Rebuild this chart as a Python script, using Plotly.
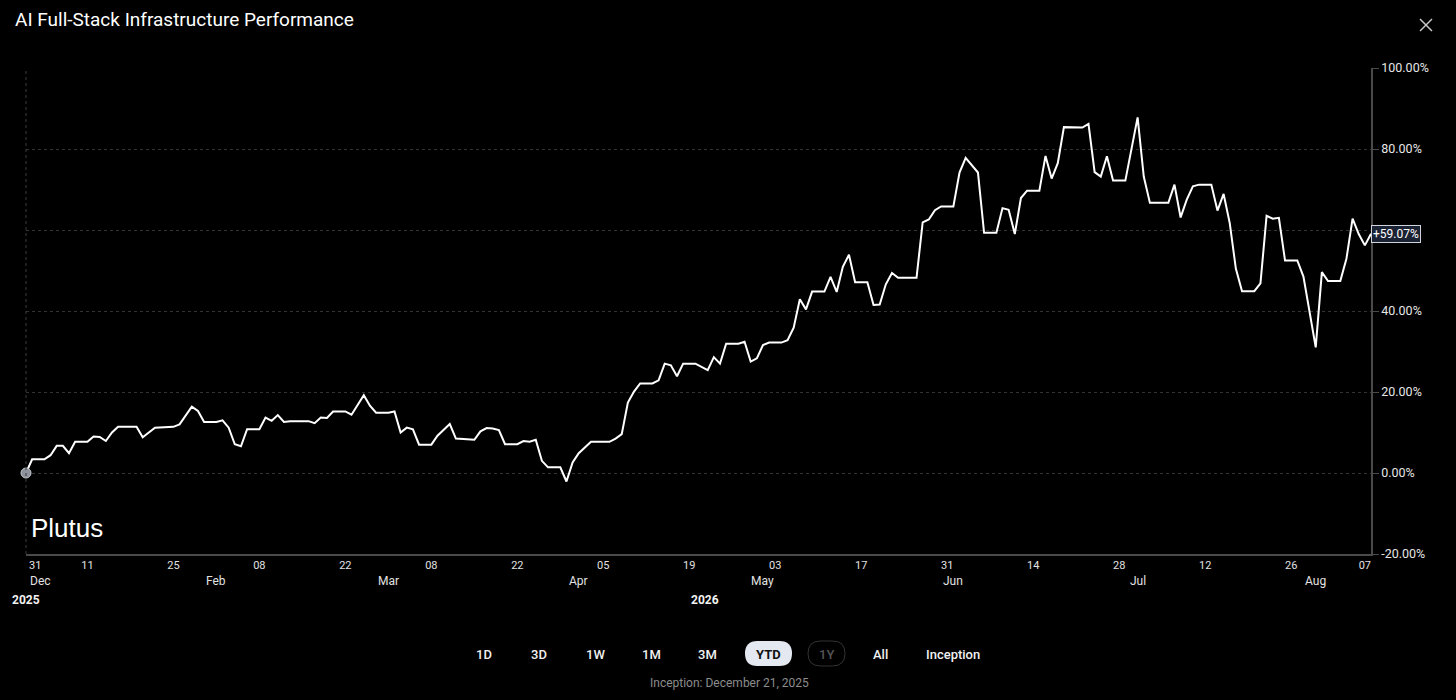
import plotly.graph_objects as go

# cumulative performance (percent)
dates = [
    "2026-01-01", "2026-01-02", "2026-01-04", "2026-01-05", "2026-01-06", "2026-01-07", "2026-01-08",
    "2026-01-09", "2026-01-11", "2026-01-12", "2026-01-13", "2026-01-14", "2026-01-15", "2026-01-16",
    "2026-01-19", "2026-01-20", "2026-01-21", "2026-01-22", "2026-01-25", "2026-01-26", "2026-01-28",
    "2026-01-29", "2026-01-30",
    "2026-02-01", "2026-02-02", "2026-02-03", "2026-02-04", "2026-02-05", "2026-02-06", "2026-02-08",
    "2026-02-09", "2026-02-10", "2026-02-11", "2026-02-12", "2026-02-13", "2026-02-16", "2026-02-17",
    "2026-02-18", "2026-02-19", "2026-02-20", "2026-02-22", "2026-02-23", "2026-02-25", "2026-02-26",
    "2026-02-27",
    "2026-03-01", "2026-03-02", "2026-03-03", "2026-03-04", "2026-03-05", "2026-03-06", "2026-03-08",
    "2026-03-09", "2026-03-11", "2026-03-12", "2026-03-15", "2026-03-16", "2026-03-17", "2026-03-18",
    "2026-03-19", "2026-03-20", "2026-03-22", "2026-03-23", "2026-03-24", "2026-03-25", "2026-03-26",
    "2026-03-27", "2026-03-29", "2026-03-30", "2026-03-31",
    "2026-04-01", "2026-04-03", "2026-04-06", "2026-04-07", "2026-04-08", "2026-04-09", "2026-04-10",
    "2026-04-11", "2026-04-13", "2026-04-14", "2026-04-15", "2026-04-16", "2026-04-17", "2026-04-18",
    "2026-04-20", "2026-04-22", "2026-04-23", "2026-04-24", "2026-04-25", "2026-04-27", "2026-04-28",
    "2026-04-29", "2026-04-30",
    "2026-05-01", "2026-05-02", "2026-05-04", "2026-05-05", "2026-05-06", "2026-05-07", "2026-05-08",
    "2026-05-09", "2026-05-11", "2026-05-12", "2026-05-13", "2026-05-14", "2026-05-15", "2026-05-16",
    "2026-05-18", "2026-05-19", "2026-05-20", "2026-05-21", "2026-05-22", "2026-05-23", "2026-05-26",
    "2026-05-27", "2026-05-28", "2026-05-29", "2026-05-30",
    "2026-06-01", "2026-06-02", "2026-06-03", "2026-06-05", "2026-06-06", "2026-06-08", "2026-06-09",
    "2026-06-10", "2026-06-11", "2026-06-12", "2026-06-13", "2026-06-15", "2026-06-16", "2026-06-17",
    "2026-06-18", "2026-06-19", "2026-06-22", "2026-06-23", "2026-06-24", "2026-06-25", "2026-06-26",
    "2026-06-27", "2026-06-29",
    "2026-07-01", "2026-07-02", "2026-07-03", "2026-07-06", "2026-07-07", "2026-07-08", "2026-07-09",
    "2026-07-10", "2026-07-11", "2026-07-13", "2026-07-14", "2026-07-15", "2026-07-16", "2026-07-17",
    "2026-07-18", "2026-07-20", "2026-07-21", "2026-07-22", "2026-07-23", "2026-07-24", "2026-07-25",
    "2026-07-27", "2026-07-28", "2026-07-30", "2026-07-31",
    "2026-08-01", "2026-08-03", "2026-08-04", "2026-08-05", "2026-08-06", "2026-08-07", "2026-08-08",
]
perf = [
    0.0, 3.4, 3.4, 4.4, 6.7, 6.7, 4.9, 7.7, 7.7, 9.0, 8.9, 7.9, 10.0, 11.4, 11.4, 8.8, 10.0, 11.2,
    11.4, 12.0, 16.4, 15.3, 12.6,
    12.6, 13.0, 11.2, 7.1, 6.6, 10.8, 10.8, 13.7, 12.9, 14.3, 12.6, 12.8, 12.8, 12.3, 13.7, 13.6,
    15.2, 15.2, 14.4, 19.2, 16.6, 14.9,
    14.9, 15.2, 10.0, 11.2, 10.8, 7.0, 7.0, 9.2, 12.1, 8.5, 8.2, 10.3, 11.1, 11.0, 10.6, 7.1, 7.1,
    7.9, 7.7, 8.2, 3.0, 1.4, 1.4, -2.1, 2.6,
    4.9, 7.7, 7.7, 8.5, 9.6, 17.4, 20.1, 22.1, 22.1, 22.9, 27.0, 26.6, 23.9, 27.0, 27.0, 25.4, 28.6,
    27.0, 31.9, 31.9, 32.4, 27.5, 28.3,
    31.6, 32.2, 32.2, 32.8, 35.9, 42.9, 40.4, 44.8, 44.8, 48.4, 44.7, 50.9, 53.9, 47.1, 47.1, 41.5,
    41.6, 46.6, 49.4, 48.2, 48.2, 61.9, 62.6, 64.9, 65.8,
    65.8, 74.2, 77.8, 74.2, 59.3, 59.3, 65.4, 65.0, 59.0, 67.9, 69.7, 69.7, 78.3, 72.7, 76.5, 85.4,
    85.3, 86.2, 74.3, 73.2, 78.2, 72.2, 72.2,
    87.8, 73.2, 66.7, 66.7, 71.2, 63.1, 67.5, 70.8, 71.2, 71.2, 64.8, 68.9, 61.7, 50.4, 44.9, 44.9,
    46.8, 63.5, 62.8, 63.0, 52.5, 52.5, 48.5, 31.0, 49.6,
    47.4, 47.4, 52.9, 62.8, 59.0, 56.2, 59.07,
]

# axis labels
day_ticks = ["2026-01-02 12:00", "2026-01-11", "2026-01-25", "2026-02-08", "2026-02-22", "2026-03-08",
             "2026-03-22", "2026-04-05", "2026-04-19", "2026-05-03", "2026-05-17", "2026-05-31",
             "2026-06-14", "2026-06-28", "2026-07-12", "2026-07-26", "2026-08-07"]
day_text = ["31", "11", "25", "08", "22", "08", "22", "05", "19", "03", "17", "31", "14", "28",
            "12", "26", "07"]
month_pos = ["2026-01-03 10:00", "2026-02-01", "2026-03-01", "2026-04-01", "2026-05-01",
             "2026-06-01", "2026-07-01", "2026-07-30"]
month_text = ["Dec", "Feb", "Mar", "Apr", "May", "Jun", "Jul", "Aug"]
year_pos = ["2026-01-01", "2026-04-21 12:00"]
year_text = ["2025", "2026"]
y_ticks = [-20, 0, 20, 40, 60, 80, 100]
# the 60% label sits under the last-value badge in the reference
y_text = [f"{v:.2f}%" if v != 60 else "" for v in y_ticks]

buttons = ["1D", "3D", "1W", "1M", "3M", "YTD", "1Y", "All", "Inception"]
button_x = [484, 539, 595, 651, 707, 768, 826, 880, 953]

W, H = 1456, 700
L, R, T, B = 26, 85, 68, 146
PW, PH = W - L - R, H - T - B


def px(x):
    return (x - L) / PW


def py(y):
    return (H - B - y) / PH


def pill(x0, y0, x1, y1, r):
    def p(x, y):
        return f"{px(x):.5f},{py(y):.5f}"
    return ("M " + p(x0 + r, y0) + " L " + p(x1 - r, y0) + " Q " + p(x1, y0) + " " + p(x1, y0 + r) +
            " L " + p(x1, y1 - r) + " Q " + p(x1, y1) + " " + p(x1 - r, y1) +
            " L " + p(x0 + r, y1) + " Q " + p(x0, y1) + " " + p(x0, y1 - r) +
            " L " + p(x0, y0 + r) + " Q " + p(x0, y0) + " " + p(x0 + r, y0) + " Z")


fig = go.Figure()
fig.add_trace(go.Scatter(x=dates, y=perf, mode='lines', line=dict(color='white', width=2),
                         hoverinfo='skip'))
fig.add_trace(go.Scatter(x=dates[:1], y=perf[:1], mode='markers', cliponaxis=False,
                         marker=dict(size=10, color='#8d929c', line=dict(color='#c3c7cf', width=1)),
                         hoverinfo='skip'))

shapes = [
    dict(type='line', xref='paper', yref='paper', x0=0, x1=0, y0=0, y1=1,
         line=dict(color='#3c3c3c', width=1, dash='dot')),
    dict(type='line', xref='paper', yref='paper', x0=px(1420), x1=px(1432), y0=py(19), y1=py(31),
         line=dict(color='#c8c8c8', width=1.5)),
    dict(type='line', xref='paper', yref='paper', x0=px(1420), x1=px(1432), y0=py(31), y1=py(19),
         line=dict(color='#c8c8c8', width=1.5)),
    dict(type='path', xref='paper', yref='paper', path=pill(745, 641, 792, 666, 12.5),
         fillcolor='#e4e9f1', line=dict(width=0)),
    dict(type='path', xref='paper', yref='paper', path=pill(808, 641, 845, 666, 12.5),
         fillcolor='rgba(0,0,0,0)', line=dict(color='#333333', width=1)),
]

ann = []
for pos, txt in zip(month_pos, month_text):
    ann.append(dict(x=pos, y=py(581), xref='x', yref='paper', text=txt, showarrow=False,
                    xanchor='center', yanchor='middle', font=dict(size=12, color='#e2e2e2')))
for pos, txt in zip(year_pos, year_text):
    ann.append(dict(x=pos, y=py(600), xref='x', yref='paper', text='<b>' + txt + '</b>',
                    showarrow=False, xanchor='center', yanchor='middle',
                    font=dict(size=12, color='#f2f2f2')))
for bx, txt in zip(button_x, buttons):
    col = '#f0f0f0'
    if txt == 'YTD':
        col = '#111111'
        txt = '<b>YTD</b>'
    elif txt == '1Y':
        col = '#555555'
    ann.append(dict(x=px(bx), y=py(654), xref='paper', yref='paper', text=txt, showarrow=False,
                    xanchor='center', yanchor='middle', font=dict(size=13, color=col, weight=500)))
ann.append(dict(x=px(729), y=py(683), xref='paper', yref='paper', text='Inception: December 21, 2025',
                showarrow=False, xanchor='center', yanchor='middle',
                font=dict(size=12, color='#8c8c8c')))
ann.append(dict(x=px(29), y=py(528), xref='paper', yref='paper', text='Plutus', showarrow=False,
                xanchor='left', yanchor='middle',
                font=dict(family='Liberation Sans, Arial, sans-serif', size=26, color='white')))
ann.append(dict(x=1, y=perf[-1], xref='paper', yref='y', text=f'+{perf[-1]:.2f}%', showarrow=False,
                xanchor='left', yanchor='middle', bgcolor='#1b2233', bordercolor='#cfd3db',
                borderwidth=1, borderpad=1, font=dict(size=12, color='white')))

fig.update_layout(
    width=W, height=H,
    margin=dict(l=L, r=R, t=T, b=B),
    paper_bgcolor='black', plot_bgcolor='black',
    font=dict(family='Roboto, Inter, sans-serif', color='#e6e6e6'),
    title=dict(text='AI Full-Stack Infrastructure Performance', x=15 / W, xanchor='left',
               y=1 - 19 / H, yanchor='middle', font=dict(size=19, color='white')),
    showlegend=False,
    hovermode=False,
    shapes=shapes,
    annotations=ann,
    xaxis=dict(type='date', range=['2026-01-01', '2026-08-08'], tickmode='array',
               tickvals=day_ticks, ticktext=day_text, tickangle=0, showgrid=False,
               zeroline=False, showline=True, linecolor='#4a4a4a', linewidth=2, ticks='',
               tickfont=dict(size=11, color='#e2e2e2')),
    yaxis=dict(side='right', range=[-20, 100], tickmode='array', tickvals=y_ticks,
               ticktext=y_text, showgrid=True, gridcolor='#333333',
               griddash='3px,3px', gridwidth=1, zeroline=False, showline=True,
               linecolor='#4a4a4a', linewidth=1.5, ticks='outside', ticklen=6,
               tickcolor='#4a4a4a', tickfont=dict(size=12.5, color='#e6e6e6')),
)

fig.write_html("out.html", config={'displayModeBar': False},
               post_script="document.body.style.margin='0';document.body.style.background='#000';")
